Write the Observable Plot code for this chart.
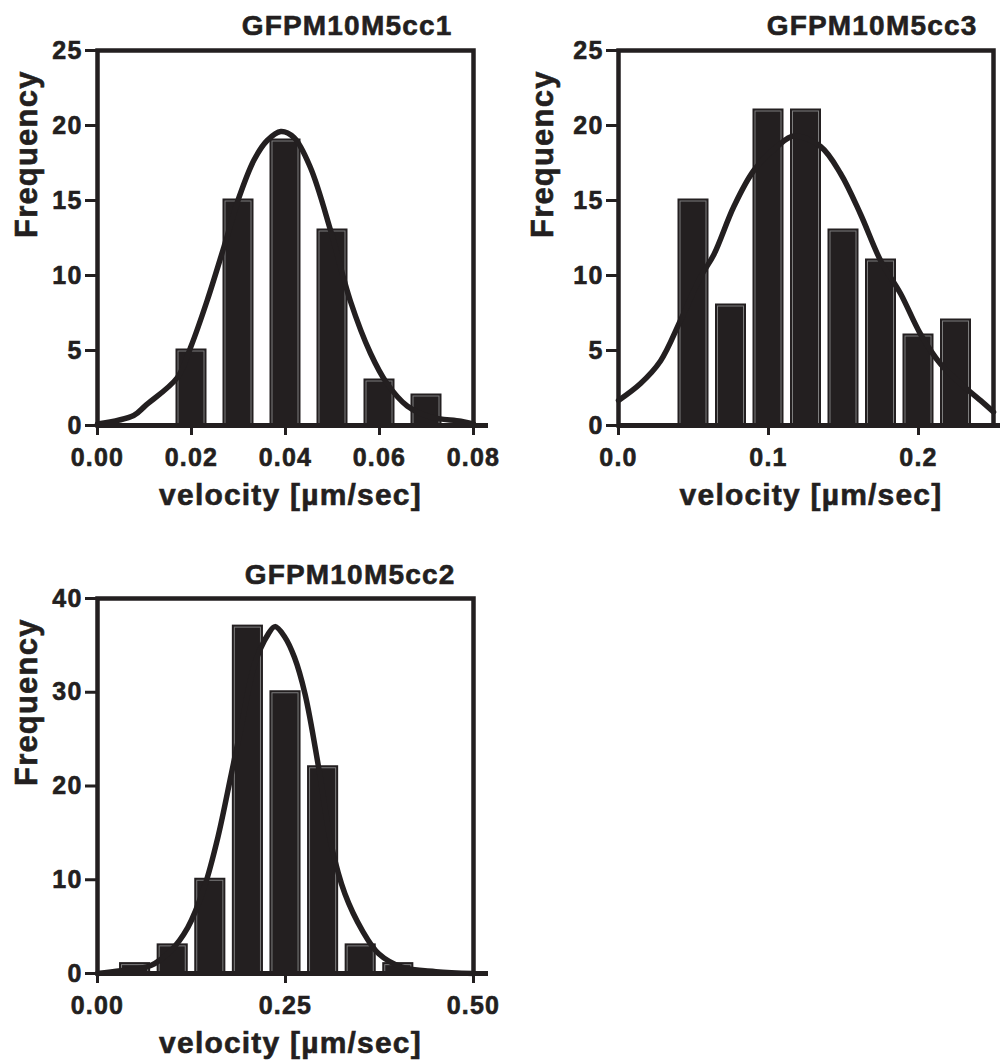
<!DOCTYPE html>
<html><head><meta charset="utf-8">
<script src="https://cdn.jsdelivr.net/npm/d3@7"></script>
<script src="https://cdn.jsdelivr.net/npm/@observablehq/plot@0.6"></script>
<style>
html,body{margin:0;padding:0;background:#fff;}
#fig{position:relative;width:1001px;height:1063px;overflow:hidden;background:#fff;}
#fig > svg{position:absolute;}
#fig text{stroke:#231f20;stroke-width:0.6px;}
</style></head><body><div id="fig"></div>
<script>
const INK = "#231f20";
const xLabel = "velocity [µm/sec]";
const yLabel = "Frequency";

// Panel 1: GFPM10M5cc1
const p1Title = "GFPM10M5cc1";
const p1BinCenters = [0.01, 0.02, 0.03, 0.04, 0.05, 0.06, 0.07];
const p1Counts = [0, 5, 15, 19, 13, 3, 2];
const p1BinWidth = 0.01;
const p1CurveX = [0, 0.0077, 0.0102, 0.017, 0.0198, 0.0233, 0.0269, 0.0301, 0.0333, 0.0361, 0.039, 0.0418, 0.0453, 0.0496, 0.0538, 0.0581, 0.0616, 0.0659, 0.0709, 0.0773, 0.08];
const p1CurveY = [0.1, 0.67, 1.33, 3.2, 5.2, 8.3, 11.9, 15.2, 17.7, 19.0, 19.6, 19.2, 17.2, 13.0, 8.3, 4.8, 2.8, 1.3, 0.56, 0.29, 0.1];
const p1XTicks = [0, 0.02, 0.04, 0.06, 0.08];
const p1YTicks = [0, 5, 10, 15, 20, 25];

// Panel 2: GFPM10M5cc3
const p2Title = "GFPM10M5cc3";
const p2BinCenters = [0.025, 0.05, 0.075, 0.1, 0.125, 0.15, 0.175, 0.2, 0.225];
const p2Counts = [0, 15, 8, 21, 21, 13, 11, 6, 7];
const p2BinWidth = 0.025;
const p2CurveX = [0, 0.0147, 0.028, 0.0413, 0.0547, 0.0636, 0.0769, 0.0902, 0.1058, 0.1169, 0.1347, 0.148, 0.1613, 0.1747, 0.188, 0.2013, 0.2147, 0.228, 0.2413, 0.25];
const p2CurveY = [1.67, 2.8, 4.3, 7.0, 9.9, 11.4, 14.6, 17.0, 18.6, 19.3, 18.6, 16.8, 14.1, 11.0, 8.8, 6.1, 4.1, 2.8, 1.67, 0.9];
const p2XTicks = [0, 0.1, 0.2];
const p2YTicks = [0, 5, 10, 15, 20, 25];

// Panel 3: GFPM10M5cc2
const p3Title = "GFPM10M5cc2";
const p3BinCenters = [0.05, 0.1, 0.15, 0.2, 0.25, 0.3, 0.35, 0.4, 0.45];
const p3Counts = [1, 3, 10, 37, 30, 22, 3, 1, 0];
const p3BinWidth = 0.05;
const p3CurveX = [0, 0.031, 0.0709, 0.0976, 0.12, 0.142, 0.16, 0.178, 0.191, 0.209, 0.227, 0.236, 0.249, 0.262, 0.276, 0.294, 0.3115, 0.329, 0.352, 0.374, 0.405, 0.45, 0.5];
const p3CurveY = [0, 0.3, 0.85, 2.45, 4.9, 9.2, 14.5, 21.3, 26.3, 33, 36.2, 37, 35.9, 33.7, 29.8, 22, 13.5, 8.5, 4.6, 2.1, 0.67, 0.2, 0];
const p3XTicks = [0, 0.25, 0.5];
const p3YTicks = [0, 10, 20, 30, 40];

function panel(o) {
  const bars = o.centers.map((c, i) => ({x1: c - o.binWidth / 2, x2: c + o.binWidth / 2, y: o.counts[i]}));
  const curve = o.curveX.map((x, i) => ({x, y: o.curveY[i]}));
  const svg = Plot.plot({
    width: o.width, height: o.height,
    marginTop: o.mt, marginBottom: o.mb, marginLeft: o.ml, marginRight: o.mr,
    style: {fontFamily: "'Liberation Sans', Arial, sans-serif", fontWeight: "bold", color: INK, background: "transparent", overflow: "visible", letterSpacing: "1.2px"},
    x: {domain: o.xDomain},
    y: {domain: o.yDomain},
    marks: [
      Plot.rectY(bars, {x1: "x1", x2: "x2", y1: 0, y2: "y", fill: INK, stroke: INK, strokeWidth: 3, insetLeft: o.inset, insetRight: o.inset}),
      Plot.rectY(bars.filter(d => d.y > 0), {x1: "x1", x2: "x2", y1: 0, y2: "y", fill: "none", stroke: "#7d7d7d", strokeWidth: 1, insetLeft: o.inset + 1, insetRight: o.inset + 1, insetTop: 1}),
      Plot.line(curve, {x: "x", y: "y", curve: "catmull-rom", stroke: INK, strokeWidth: 5.5, strokeLinejoin: "round", strokeLinecap: "round"}),
      Plot.frame({stroke: INK, strokeWidth: 4.5}),
      Plot.ruleY([0], {stroke: INK, strokeWidth: 5, insetRight: -o.extend}),
      Plot.axisY({ticks: o.yTicks, tickSize: 12, tickPadding: 3, strokeWidth: 3, fontSize: 25, label: null}),
      Plot.axisX({ticks: o.xTicks, tickFormat: d3.format(o.xFormat), tickSize: 10, tickPadding: 13, strokeWidth: 3, fontSize: 25, label: null}),
      Plot.text([o.title], {text: d => d, frameAnchor: "top-right", lineAnchor: "middle", textAnchor: "end", dx: o.titleDx, dy: o.titleDy, fontSize: 28, fontWeight: "bold", fill: INK}),
      Plot.text([yLabel], {text: d => d, frameAnchor: "left", lineAnchor: "middle", rotate: -90, dx: o.yLabelDx, fontSize: 31, fontWeight: "bold", fill: INK}),
      Plot.text([xLabel], {text: d => d, frameAnchor: "bottom", lineAnchor: "middle", dx: 5, dy: o.xLabelDy, fontSize: 30, fontWeight: "bold", fill: INK})
    ]
  });
  svg.style.left = o.left + "px";
  svg.style.top = o.top + "px";
  return svg;
}

const fig = document.getElementById("fig");
fig.appendChild(panel({
  title: p1Title, centers: p1BinCenters, counts: p1Counts, binWidth: p1BinWidth,
  curveX: p1CurveX, curveY: p1CurveY, xDomain: [0, 0.08], yDomain: [0, 25],
  xTicks: p1XTicks, yTicks: p1YTicks, xFormat: ".2f",
  left: 0, top: 0, width: 500, height: 530, mt: 50, mb: 105, ml: 97, mr: 27,
  inset: 9.5, extend: 15, titleDx: -21, titleDy: -24.5, yLabelDx: -70, xLabelDy: 70
}));
fig.appendChild(panel({
  title: p2Title, centers: p2BinCenters, counts: p2Counts, binWidth: p2BinWidth,
  curveX: p2CurveX, curveY: p2CurveY, xDomain: [0, 0.25], yDomain: [0, 25],
  xTicks: p2XTicks, yTicks: p2YTicks, xFormat: ".1f",
  left: 500, top: 0, width: 501, height: 530, mt: 50, mb: 105, ml: 118, mr: 8,
  inset: 4.75, extend: 7, titleDx: -16, titleDy: -24, yLabelDx: -75, xLabelDy: 70
}));
fig.appendChild(panel({
  title: p3Title, centers: p3BinCenters, counts: p3Counts, binWidth: p3BinWidth,
  curveX: p3CurveX, curveY: p3CurveY, xDomain: [0, 0.5], yDomain: [0, 40],
  xTicks: p3XTicks, yTicks: p3YTicks, xFormat: ".2f",
  left: 0, top: 530, width: 500, height: 533, mt: 68, mb: 90, ml: 97, mr: 27,
  inset: 4.75, extend: 15, titleDx: -18, titleDy: -23, yLabelDx: -70, xLabelDy: 70
}));
</script>
</body></html>
